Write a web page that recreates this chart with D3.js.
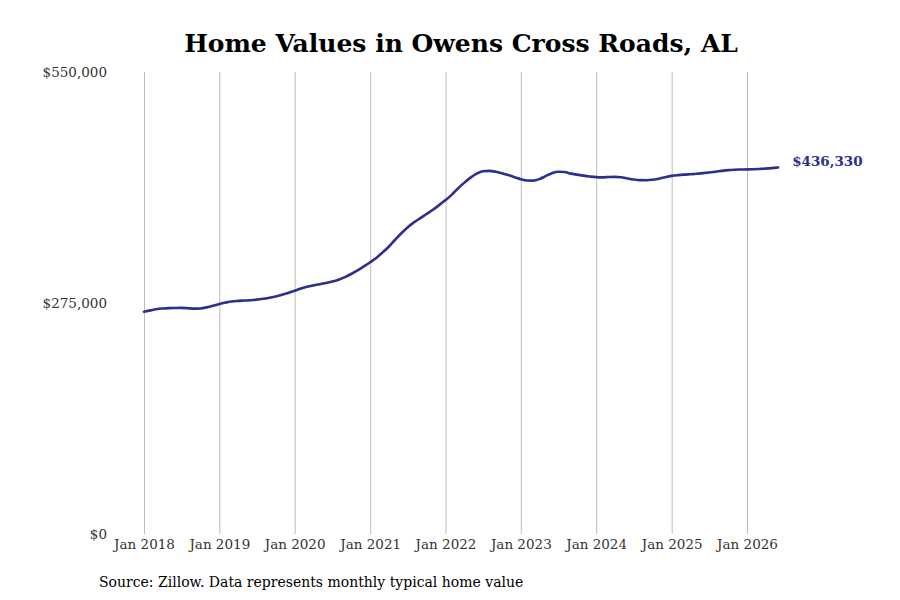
<!DOCTYPE html>
<html>
<head>
<meta charset="utf-8">
<script src="https://cdn.jsdelivr.net/npm/d3@7"></script>
<style>
  body { margin: 0; background: #fff; }
  svg { display: block; font-family: "DejaVu Serif", serif; }
</style>
</head>
<body>
<div id="vis"></div>
<script>
// monthly typical home value, Jan 2018 - Jun 2026
var start_month = "2018-01";
var values = [
  264600, 266200, 267500, 268400, 268900, 269100, 269200, 268800, 268300, 268500, 269800, 271600,
  273800, 275500, 276800, 277500, 277900, 278300, 279000, 280000, 281200, 282800, 284700, 287000,
  289600, 292200, 294300, 296000, 297400, 298800, 300500, 302800, 305800, 309500, 313800, 318500,
  323500, 329000, 335000, 342000, 350000, 358000, 365000, 371000, 376000, 381000, 386000, 391500,
  397500, 404000, 411000, 418000, 424000, 429000, 431800, 432300, 431300, 429500, 427300, 424800,
  422300, 420800, 420700, 422500, 426000, 429500, 431300, 431000, 429000, 427800, 426600, 425600,
  424800, 424600, 425000, 425200, 424600, 423200, 422000, 421300, 421200, 421800, 423000, 424800,
  426300, 427200, 427800, 428300, 428800, 429600, 430400, 431300, 432300, 433200, 433700, 433900,
  434100, 434300, 434600, 435000, 435600, 436330
];
var tick_years = [2018, 2019, 2020, 2021, 2022, 2023, 2024, 2025, 2026];
var y_ticks = [0, 275000, 550000];
var title = "Home Values in Owens Cross Roads, AL";
var source = "Source: Zillow. Data represents monthly typical home value";

var parse = d3.timeParse("%Y-%m");
var t0 = parse(start_month);
var data = values.map(function(v, i) {
  return { date: d3.timeMonth.offset(t0, i), value: v };
});

var width = 900, height = 600;
var line_color = "#2e2e8b";

var scales = {
  x: d3.scaleTime()
    .domain([new Date(2018, 0, 1), new Date(2026, 0, 1)])
    .range([144, 747]),
  y: d3.scaleLinear()
    .domain([0, 550000])
    .range([534, 72])
};

var svg = d3.select("#vis")
  .append("svg")
  .attr("width", width)
  .attr("height", height);

svg.append("text")
  .attr("x", 461)
  .attr("y", 52)
  .attr("text-anchor", "middle")
  .attr("font-size", 25)
  .attr("font-weight", "bold")
  .attr("fill", "#000")
  .text(title);

// vertical grid at each January
var tick_dates = tick_years.map(function(y) { return new Date(y, 0, 1); });
var x_axis = d3.axisBottom(scales.x)
  .tickValues(tick_dates)
  .tickFormat(d3.timeFormat("Jan %Y"))
  .tickSizeInner(-(scales.y.range()[0] - scales.y.range()[1]))
  .tickSizeOuter(0)
  .tickPadding(5);

var gx = svg.append("g")
  .attr("class", "x_axis")
  .attr("transform", "translate(0," + scales.y.range()[0] + ")")
  .call(x_axis);
gx.select(".domain").remove();
gx.selectAll("line")
  .attr("stroke", "#bdbdbd")
  .attr("stroke-width", 1);
gx.selectAll("text")
  .attr("font-family", "DejaVu Serif, serif")
  .attr("font-size", 13.5)
  .attr("fill", "#333");

var y_axis = d3.axisLeft(scales.y)
  .tickValues(y_ticks)
  .tickSize(0)
  .tickPadding(37)
  .tickFormat(function(d) { return "$" + d3.format(",")(d); });

var gy = svg.append("g")
  .attr("class", "y_axis")
  .attr("transform", "translate(144,0)")
  .call(y_axis);
gy.select(".domain").remove();
gy.selectAll("text")
  .attr("font-family", "DejaVu Serif, serif")
  .attr("font-size", 13.5)
  .attr("fill", "#333");

var line = d3.line()
  .x(function(d) { return scales.x(d.date); })
  .y(function(d) { return scales.y(d.value); })
  .curve(d3.curveMonotoneX);

svg.append("path")
  .datum(data)
  .attr("fill", "none")
  .attr("stroke", line_color)
  .attr("stroke-width", 2.6)
  .attr("stroke-linecap", "round")
  .attr("d", line);

var last = data[data.length - 1];
svg.append("text")
  .attr("x", scales.x(last.date) + 14)
  .attr("y", scales.y(last.value) - 5)
  .attr("dominant-baseline", "middle")
  .attr("font-size", 13.5)
  .attr("font-weight", "bold")
  .attr("fill", line_color)
  .text("$" + d3.format(",")(last.value));

svg.append("text")
  .attr("x", 99)
  .attr("y", 587)
  .attr("font-size", 14)
  .attr("fill", "#000")
  .text(source);
</script>
</body>
</html>
